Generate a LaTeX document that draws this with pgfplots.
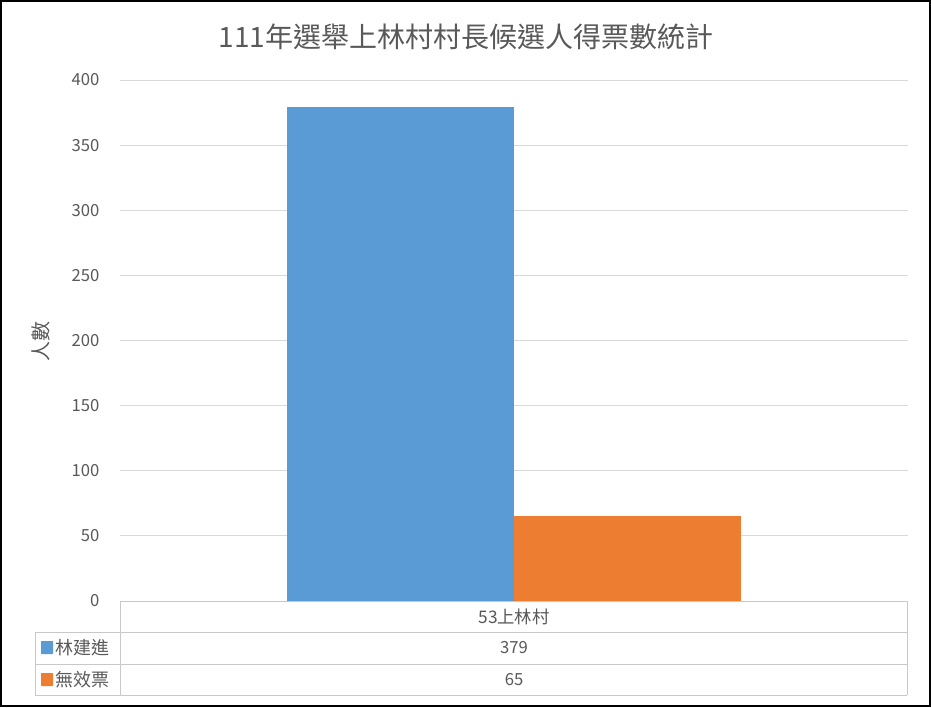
\documentclass[border=0pt]{standalone}
\usepackage{fontspec}
\setmainfont{Noto Sans CJK TC}
\usepackage{pgfplots}
\pgfplotsset{compat=1.18}

\definecolor{txt}{HTML}{595959}
\definecolor{gridc}{HTML}{D9D9D9}
\definecolor{tabc}{HTML}{C8C8C8}
\definecolor{barblue}{HTML}{5B9BD5}
\definecolor{barorange}{HTML}{ED7D31}

% pixel -> pt (931 x 707 px picture)
\newcommand{\pxy}[2]{({#1*0.75pt},{-#2*0.75pt})}

\begin{document}
\begin{tikzpicture}
% page background and frame
\fill[white] \pxy{0}{0} rectangle \pxy{931}{707};
\draw[black, line width=1.5pt] \pxy{1}{1} rectangle \pxy{930}{706};

\begin{axis}[
    at={(90pt,-450.75pt)}, anchor=south west,
    scale only axis,
    width=591pt, height=390.75pt,
    xmin=0, xmax=788,
    ymin=0, ymax=400,
    ytick={0,50,...,400},
    xtick=\empty,
    ymajorgrids,
    grid style={gridc, line width=0.6pt},
    axis line style={draw=none},
    tick style={draw=none},
    /pgf/number format/assume math mode=true,
    yticklabel style={font=\fontsize{12.5}{14}\selectfont, text=txt, xshift=-12pt},
    clip=false,
]
\addplot[ybar, bar width=227, bar shift=-113.5, fill=barblue, draw=none] coordinates {(394,379)};
\addplot[ybar, bar width=227, bar shift=113.5, fill=barorange, draw=none] coordinates {(394,65)};
\end{axis}

% title
\node[text=txt, font=\fontsize{21}{24}\selectfont] at \pxy{466}{37} {111年選舉上林村村長候選人得票數統計};

% y label
\node[text=txt, rotate=90, font=\fontsize{15}{17}\selectfont] at \pxy{41}{341} {人數};

% data table
\draw[tabc, line width=0.75pt]
  \pxy{120}{601} -- \pxy{907}{601}
  \pxy{35}{632} -- \pxy{907}{632}
  \pxy{35}{664} -- \pxy{907}{664}
  \pxy{35}{695} -- \pxy{907}{695}
  \pxy{120}{601} -- \pxy{120}{695}
  \pxy{907}{601} -- \pxy{907}{695}
  \pxy{35}{632} -- \pxy{35}{695};

\node[text=txt, font=\fontsize{13}{15}\selectfont] at \pxy{514}{617} {53上林村};
\node[text=txt, font=\fontsize{12.5}{15}\selectfont] at \pxy{514}{648} {379};
\node[text=txt, font=\fontsize{12.5}{15}\selectfont] at \pxy{514}{680} {65};

\fill[barblue, rounded corners=0.5pt] \pxy{41}{641} rectangle \pxy{53}{654};
\fill[barorange, rounded corners=0.5pt] \pxy{41}{673} rectangle \pxy{53}{686};
\node[text=txt, anchor=west, inner sep=0pt, font=\fontsize{13.5}{15}\selectfont] at \pxy{55}{648} {林建進};
\node[text=txt, anchor=west, inner sep=0pt, font=\fontsize{13.5}{15}\selectfont] at \pxy{55}{680} {無效票};
\end{tikzpicture}
\end{document}
